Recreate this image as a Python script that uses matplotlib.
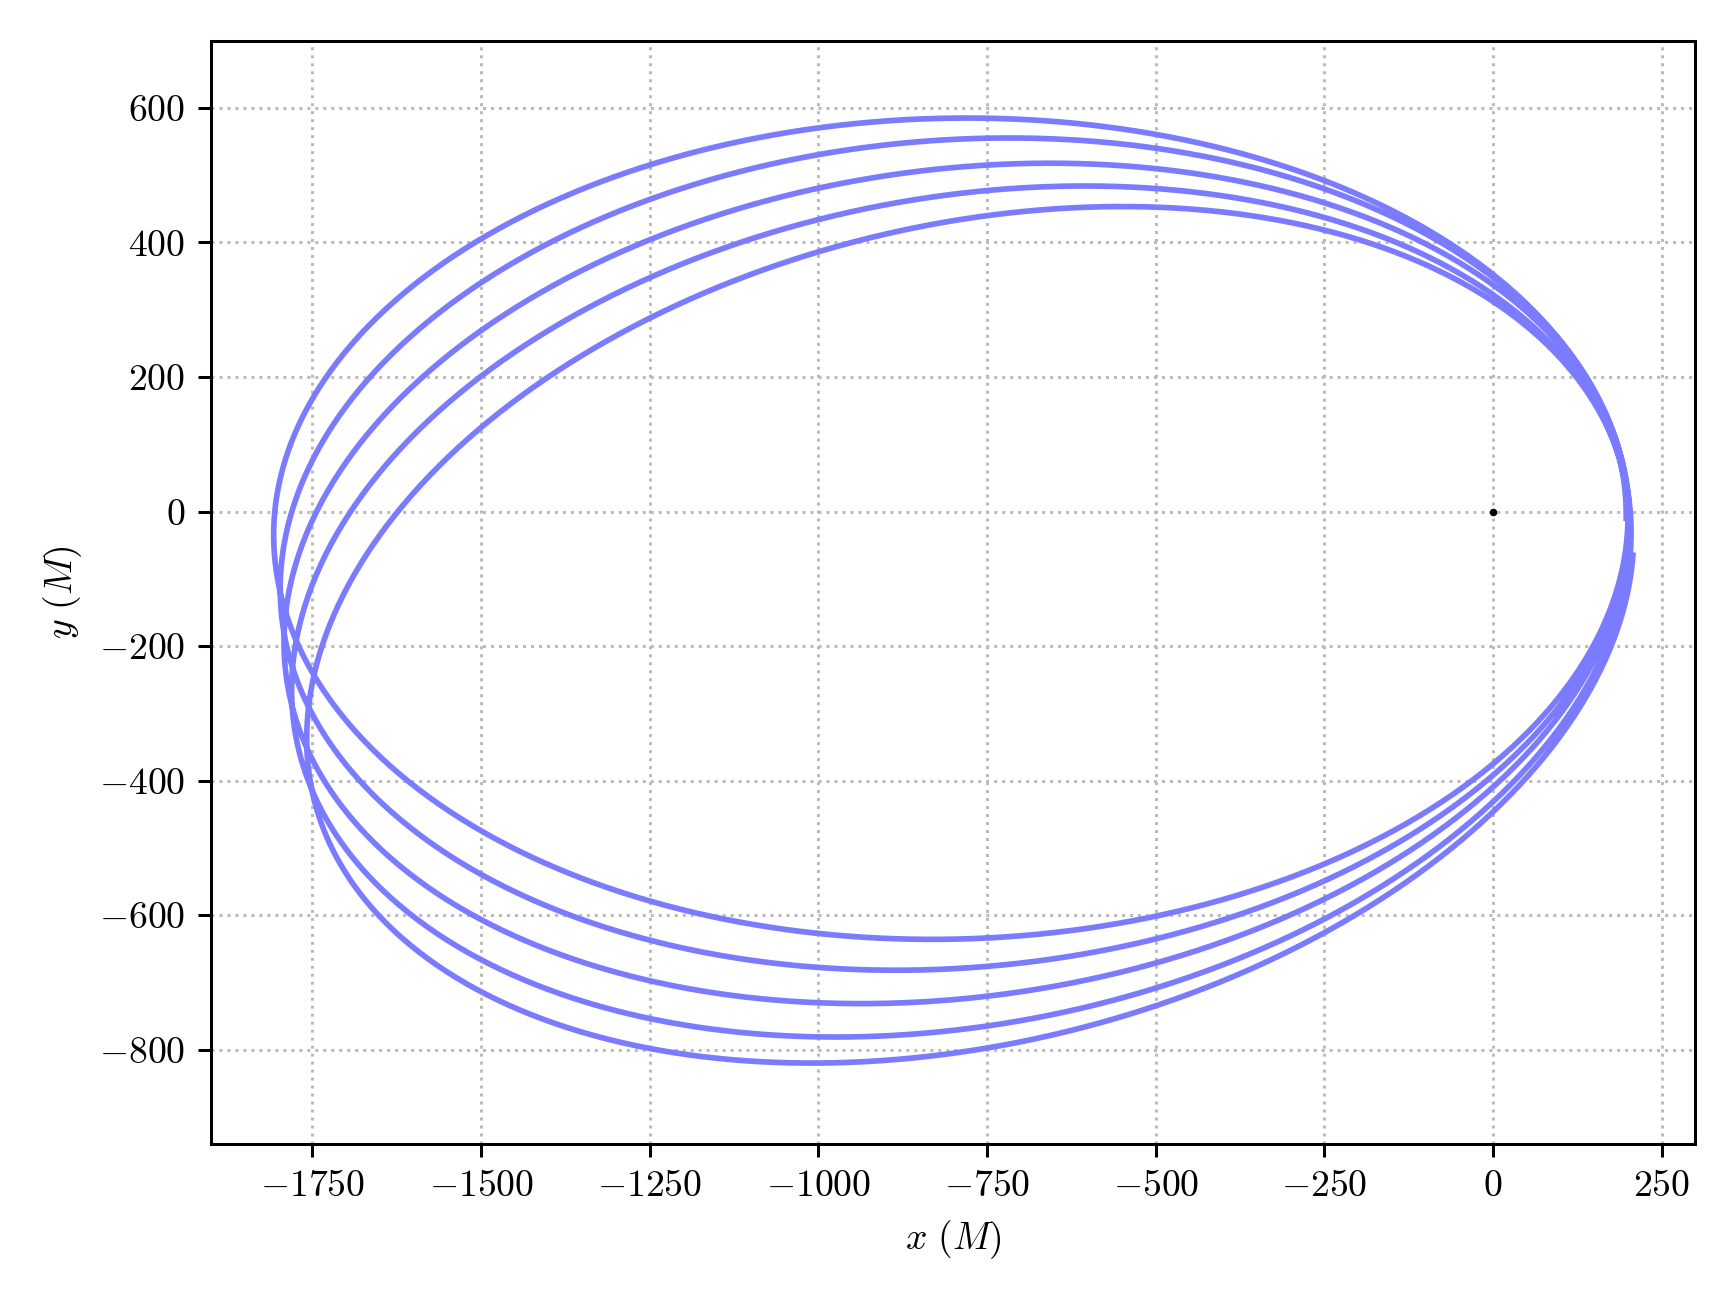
import numpy as np
import matplotlib
matplotlib.use("Agg")
import matplotlib.pyplot as plt

plt.rcParams['font.family'] = 'serif'
plt.rcParams['font.serif'] = ['cmr10']
plt.rcParams['mathtext.fontset'] = 'cm'
plt.rcParams['axes.formatter.use_mathtext'] = True

# per-loop landmarks (top, left, bottom, right points)
top_x = [-780, -710, -650, -600, -540]
top_y = [585, 545, 508, 475, 445]
left_x = [-1800, -1795, -1788, -1775, -1760]
left_y = [-40, -110, -180, -250, -330]
bot_x = [-830, -885, -940, -980, -1010]
bot_y = [-625, -670, -720, -770, -820]
right_x = [205, 205, 205, 205, 205]
right_y = [-20, -35, -50, -68, -85]

n = len(top_x)
knots = np.arange(n) + 0.5
s = np.linspace(0, n, 4000)
t = 2 * np.pi * s

def p(vals):
    return np.interp(s, knots, np.array(vals, dtype=float))

# ellipse x = cx + A cos t + D sin t, y = cy + B sin t + C cos t
cx = (p(top_x) + p(bot_x)) / 2
cy = (p(top_y) + p(bot_y)) / 2
R = (p(top_y) - p(bot_y)) / 2
A = (p(right_x) - p(left_x)) / 2
C = (p(right_y) - p(left_y)) / 2
B = np.sqrt(R**2 - C**2)
D = ((p(top_x) - cx) * R - A * C) / B
x = cx + A * np.cos(t) + D * np.sin(t)
y = cy + B * np.sin(t) + C * np.cos(t)

fig, ax = plt.subplots(figsize=(6.4, 4.8), dpi=271.25)
ax.plot(x, y, color='#7b7bff', lw=1.5)
ax.plot([0], [0], 'o', color='black', ms=1)
ax.set_xlim(-1900, 300)
ax.set_ylim(-940, 700)
ax.set_xticks([-1750, -1500, -1250, -1000, -750, -500, -250, 0, 250])
ax.set_yticks([-800, -600, -400, -200, 0, 200, 400, 600])
ax.grid(True, linestyle=':', color='#bbbbbb', lw=0.8)
ax.set_xlabel(r'$x\ (M)$')
ax.set_ylabel(r'$y\ (M)$')
fig.tight_layout()
fig.savefig('out.png')
